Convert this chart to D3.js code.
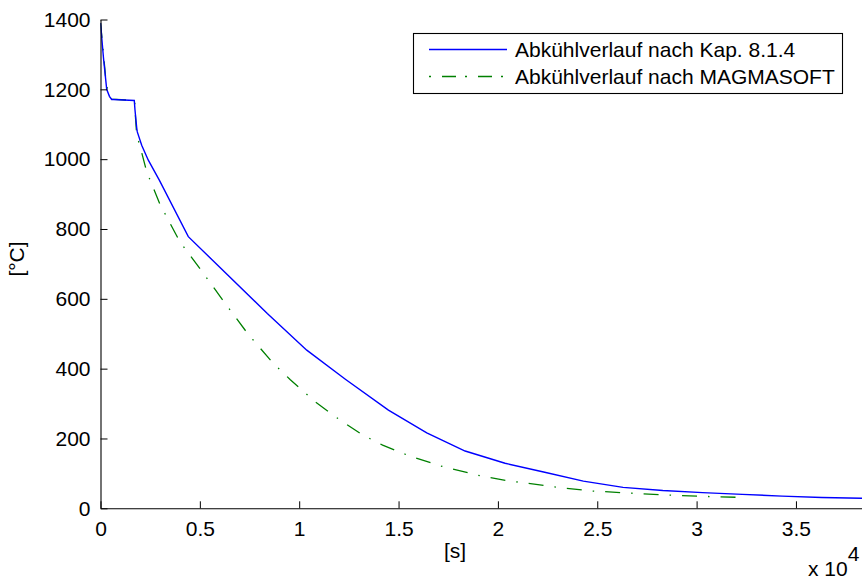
<!DOCTYPE html>
<html>
<head>
<meta charset="utf-8">
<script src="https://cdn.jsdelivr.net/npm/d3@7"></script>
<style>
  html, body { margin: 0; padding: 0; background: #fff; }
  svg { display: block; }
  text { font-family: "Liberation Sans", Arial, sans-serif; fill: #000; }
</style>
</head>
<body>
<svg id="chart" width="862" height="581"></svg>
<script>
// Cooling curve: time [s] vs temperature [°C]
const timeCalc = [0, 150, 312, 450, 564, 644, 1700, 1736, 1822, 1852, 2073, 2406, 2960, 4419, 8395, 10380, 12340, 14490, 16420, 18350, 20360, 22300, 24300, 26300, 28300, 30300, 32300, 34300, 36300, 38300, 40000];
const tempCalc = [1390, 1290, 1200, 1180, 1171, 1171, 1168, 1141, 1090, 1078, 1040, 997, 940, 778, 558, 453, 369, 281, 216, 164, 129, 104, 78, 60, 51, 45, 40, 35, 31, 28.6, 27];

const timeMagma = [0, 120, 280, 420, 560, 1720, 1760, 1822, 2000, 2325, 3000, 4000, 4340, 5140, 6270, 7440, 8700, 9540, 10800, 12050, 13200, 14200, 15500, 17250, 19180, 20400, 22600, 24600, 26500, 28500, 30400, 32400];
const tempMagma = [1390, 1320, 1220, 1183, 1172, 1168, 1120, 1069, 1035, 964, 870, 763, 737, 676, 587, 498, 415, 369, 305, 253, 210, 181, 151, 119, 92, 80, 63, 50, 44, 38, 34, 31];

const xTicks = [0, 5000, 10000, 15000, 20000, 25000, 30000, 35000];
const yTicks = [0, 200, 400, 600, 800, 1000, 1200, 1400];
const legendLabels = ["Abkühlverlauf nach Kap. 8.1.4", "Abkühlverlauf nach MAGMASOFT"];

const FS = 21;
const svg = d3.select("#chart");

const x0 = 100.5, yBase = 508.3;
const pxPerUnitX = 198.7 / 10000;
const xMax = 40000;
const x = d3.scaleLinear().domain([0, xMax]).range([x0, x0 + xMax * pxPerUnitX]);
const y = d3.scaleLinear().domain([0, 1400]).range([yBase, 19.5]);

svg.append("defs").append("clipPath").attr("id", "plotclip")
  .append("rect").attr("x", x0).attr("y", 0).attr("width", 862 - x0).attr("height", yBase + 1);

// Curves
const line = d3.line().x(d => x(d[0])).y(d => y(d[1]));
const calc = timeCalc.map((t, i) => [t, tempCalc[i]]);
const magma = timeMagma.map((t, i) => [t, tempMagma[i]]);

const plot = svg.append("g").attr("clip-path", "url(#plotclip)");
plot.append("path").datum(magma)
  .attr("d", line).attr("fill", "none")
  .attr("stroke", "#008000").attr("stroke-width", 1.3)
  .attr("stroke-dasharray", "15,11,1.5,11");
plot.append("path").datum(calc)
  .attr("d", line).attr("fill", "none")
  .attr("stroke", "#0000ff").attr("stroke-width", 1.4);

// Axes (ticks pointing inward)
const xAxis = d3.axisBottom(x).tickValues(xTicks).tickSizeInner(-7).tickSizeOuter(0)
  .tickPadding(13).tickFormat(d => d3.format("")(d / 10000));
const gx = svg.append("g").attr("transform", `translate(0,${yBase})`).call(xAxis);
gx.select(".domain").attr("stroke", "#000").attr("stroke-width", 1.1);
gx.selectAll(".tick line").attr("stroke", "#000");
gx.selectAll("text").attr("font-size", FS).attr("fill", "#000");

const yAxis = d3.axisLeft(y).tickValues(yTicks).tickSizeInner(-7).tickSizeOuter(0)
  .tickPadding(10).tickFormat(d3.format(""));
const gy = svg.append("g").attr("transform", `translate(${x0},0)`).call(yAxis);
gy.select(".domain").attr("stroke", "#000").attr("stroke-width", 1.1);
gy.selectAll(".tick line").attr("stroke", "#000");
gy.selectAll("text").attr("font-size", FS).attr("fill", "#000");

// Axis labels
svg.append("text").attr("x", 455).attr("y", 558).attr("text-anchor", "middle")
  .attr("font-size", FS).text("[s]");
svg.append("text").attr("transform", "translate(24,259) rotate(-90)")
  .attr("text-anchor", "middle").attr("font-size", FS).text("[°C]");

// Exponent label
const expo = svg.append("text").attr("x", 808).attr("y", 576).attr("font-size", FS);
expo.append("tspan").text("x 10");
expo.append("tspan").attr("dy", -15).text("4");

// Legend
const lg = svg.append("g");
lg.append("rect").attr("x", 413.5).attr("y", 33.5).attr("width", 429).attr("height", 60)
  .attr("fill", "#fff").attr("stroke", "#000").attr("stroke-width", 1.1);
const legendStyles = [
  { stroke: "#0000ff", dash: null, w: 1.4 },
  { stroke: "#008000", dash: "2,11,14,9", w: 1.3 }
];
legendLabels.forEach((lab, i) => {
  const yy = 49.5 + i * 27;
  lg.append("line").attr("x1", 429).attr("x2", 507).attr("y1", yy).attr("y2", yy)
    .attr("stroke", legendStyles[i].stroke).attr("stroke-width", legendStyles[i].w)
    .attr("stroke-dasharray", legendStyles[i].dash);
  lg.append("text").attr("x", 515).attr("y", yy + 7.5).attr("font-size", FS).text(lab);
});
</script>
</body>
</html>
